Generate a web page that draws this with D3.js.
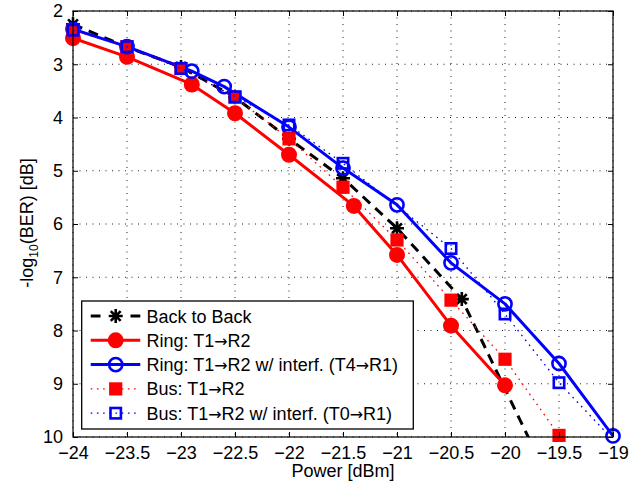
<!DOCTYPE html>
<html>
<head>
<meta charset="utf-8">
<script src="https://cdn.jsdelivr.net/npm/d3@7"></script>
<style>
  html, body { margin: 0; padding: 0; background: #fff; }
  svg { display: block; font-family: "Liberation Sans", Arial, Helvetica, sans-serif; }
</style>
</head>
<body>
<svg id="chart" width="634" height="483"></svg>
<script>
// ---------------- data ----------------
const xTicks = [-24, -23.5, -23, -22.5, -22, -21.5, -21, -20.5, -20, -19.5, -19];
const yTicks = [2, 3, 4, 5, 6, 7, 8, 9, 10];

const b2bX = [-24, -23.5, -23, -22.5, -22, -21.5, -21, -20.4, -19.5];
const b2bY = [2.25, 2.68, 3.05, 3.62, 4.40, 5.14, 6.08, 7.41, 11.2];

const ringX = [-24, -23.5, -22.9, -22.5, -22, -21.4, -21, -20.5, -20];
const ringY = [2.51, 2.86, 3.38, 3.92, 4.70, 5.66, 6.58, 7.91, 9.03];

const ringIntX = [-24, -23.5, -22.9, -22.6, -22, -21.5, -21, -20.5, -20, -19.5, -19];
const ringIntY = [2.34, 2.67, 3.13, 3.42, 4.18, 4.95, 5.64, 6.73, 7.50, 8.62, 9.98];

const busX = [-24, -23.5, -23, -22.5, -22, -21.5, -21, -20.5, -20, -19.5];
const busY = [2.36, 2.67, 3.08, 3.62, 4.40, 5.31, 6.30, 7.43, 8.54, 9.97];

const busIntX = [-24, -23.5, -23, -22.5, -22, -21.5, -20.5, -20, -19.5, -19];
const busIntY = [2.36, 2.67, 3.08, 3.61, 4.14, 4.86, 6.46, 7.69, 8.98, 10.05];

const seriesNames = [
  "Back to Back",
  "Ring: T1\u2192R2",
  "Ring: T1\u2192R2 w/ interf. (T4\u2192R1)",
  "Bus: T1\u2192R2",
  "Bus: T1\u2192R2 w/ interf. (T0\u2192R1)"
];

// ---------------- layout ----------------
const L = 73, R = 613, T = 11, B = 437;
const svg = d3.select("#chart");
const x = d3.scaleLinear().domain([-24, -19]).range([L, R]);
const y = d3.scaleLinear().domain([2, 10]).range([T, B]);

svg.append("defs").append("clipPath").attr("id", "plotclip")
  .append("rect").attr("x", L).attr("y", T).attr("width", R - L).attr("height", B - T);

// grid
const grid = svg.append("g");
grid.selectAll("line.gx").data(xTicks).join("line")
  .attr("x1", d => x(d)).attr("x2", d => x(d)).attr("y1", T).attr("y2", B)
  .attr("stroke", "#000").attr("stroke-width", 0.9).attr("stroke-dasharray", "1,5.5");
grid.selectAll("line.gy").data(yTicks).join("line")
  .attr("y1", d => y(d)).attr("y2", d => y(d)).attr("x1", L).attr("x2", R)
  .attr("stroke", "#000").attr("stroke-width", 0.9).attr("stroke-dasharray", "1,5.5");

// ---------------- marker shapes ----------------
function asterisk(g, s) {
  const a = 7;
  const d = [];
  for (let i = 0; i < 4; i++) {
    const ang = i * Math.PI / 4;
    d.push(`M${-a * Math.cos(ang)},${-a * Math.sin(ang)}L${a * Math.cos(ang)},${a * Math.sin(ang)}`);
  }
  g.append("path").attr("d", d.join("")).attr("stroke", s).attr("stroke-width", 2.6).attr("fill", "none");
}
function filledCircle(g, c) { g.append("circle").attr("r", 8).attr("fill", c); }
function openCircle(g, c) { g.append("circle").attr("r", 6.6).attr("fill", "none").attr("stroke", c).attr("stroke-width", 2.6); }
function filledSquare(g, c) { g.append("rect").attr("x", -6.6).attr("y", -6.6).attr("width", 13.2).attr("height", 13.2).attr("fill", c); }
function openSquare(g, c) { g.append("rect").attr("x", -5.2).attr("y", -5.2).attr("width", 10.4).attr("height", 10.4).attr("fill", "none").attr("stroke", c).attr("stroke-width", 2.6); }

const series = [
  { xs: b2bX, ys: b2bY, color: "#000", width: 3, dash: "10,7", marker: asterisk },
  { xs: ringX, ys: ringY, color: "#ff0000", width: 3, dash: null, marker: filledCircle },
  { xs: ringIntX, ys: ringIntY, color: "#0000ff", width: 3, dash: null, marker: openCircle },
  { xs: busX, ys: busY, color: "#ff0000", width: 1.3, dash: "1.6,4.6", marker: filledSquare },
  { xs: busIntX, ys: busIntY, color: "#0000ff", width: 1.3, dash: "1.6,4.6", marker: openSquare }
];

const line = d3.line().x(d => x(d[0])).y(d => y(d[1]));

series.forEach(s => {
  const pts = s.xs.map((v, i) => [v, s.ys[i]]);
  const g = svg.append("g");
  const p = g.append("path").datum(pts).attr("d", line)
    .attr("fill", "none").attr("stroke", s.color).attr("stroke-width", s.width)
    .attr("stroke-linejoin", "round").attr("clip-path", "url(#plotclip)");
  if (s.dash) p.attr("stroke-dasharray", s.dash);
  pts.filter(d => d[1] >= 2 && d[1] <= 10).forEach(d => {
    const mg = g.append("g").attr("transform", `translate(${x(d[0])},${y(d[1])})`);
    s.marker(mg, s.color);
  });
});

// ---------------- axes ----------------
const fmt = d => (d < 0 ? "\u2212" : "") + Math.abs(d);
const axB = d3.axisBottom(x).tickValues(xTicks).tickSize(-5).tickPadding(9).tickFormat(fmt);
const axT = d3.axisTop(x).tickValues(xTicks).tickSize(-5).tickFormat("");
const axLft = d3.axisLeft(y).tickValues(yTicks).tickSize(-5).tickPadding(10).tickFormat(d3.format("d"));
const axRt = d3.axisRight(y).tickValues(yTicks).tickSize(-5).tickFormat("");

function styleAxis(g) {
  g.select(".domain").remove();
  g.selectAll(".tick line").attr("stroke", "#000").attr("stroke-width", 1);
  g.selectAll("text").attr("font-size", 18).attr("fill", "#000").attr("font-family", "Liberation Sans, Arial, sans-serif");
}
svg.append("g").attr("transform", `translate(0,${B})`).call(axB).call(styleAxis);
svg.append("g").attr("transform", `translate(0,${T})`).call(axT).call(styleAxis);
svg.append("g").attr("transform", `translate(${L},0)`).call(axLft).call(styleAxis);
svg.append("g").attr("transform", `translate(${R},0)`).call(axRt).call(styleAxis);

svg.append("rect").attr("x", L).attr("y", T).attr("width", R - L).attr("height", B - T)
  .attr("fill", "none").attr("stroke", "#000").attr("stroke-width", 1.2);

// axis labels
svg.append("text").attr("x", (L + R) / 2).attr("y", 477).attr("text-anchor", "middle")
  .attr("font-size", 18).text("Power [dBm]");

const yl = svg.append("text").attr("transform", `translate(33,${(T + B) / 2 - 1}) rotate(-90)`)
  .attr("text-anchor", "middle").attr("font-size", 18);
yl.append("tspan").text("-log");
yl.append("tspan").attr("font-size", 12).attr("dy", 5).text("10");
yl.append("tspan").attr("dy", -5).text("(BER) [dB]");

// ---------------- legend ----------------
const lg = svg.append("g");
lg.append("rect").attr("x", 81.7).attr("y", 301).attr("width", 331.6).attr("height", 128)
  .attr("fill", "#fff").attr("stroke", "#000").attr("stroke-width", 1.3);
const rowY = [316, 340.3, 364.6, 388.9, 413.2];
series.forEach((s, i) => {
  const yy = rowY[i];
  if (i === 0) {
    [[90.7, 100.5], [130.5, 140.3]].forEach(seg => {
      lg.append("line").attr("x1", seg[0]).attr("x2", seg[1]).attr("y1", yy).attr("y2", yy)
        .attr("stroke", s.color).attr("stroke-width", s.width);
    });
  } else {
    const ln = lg.append("line").attr("x1", 90.7).attr("x2", 140.3).attr("y1", yy).attr("y2", yy)
      .attr("stroke", s.color).attr("stroke-width", s.width);
    if (s.dash) ln.attr("stroke-dasharray", s.dash);
  }
  const mg = lg.append("g").attr("transform", `translate(115.7,${yy})`);
  s.marker(mg, s.color);
  const t = lg.append("text").attr("x", 146.5).attr("y", yy + 6.5).attr("font-size", 18);
  seriesNames[i].split(/(\u2192)/).forEach(part => {
    if (!part) return;
    const ts = t.append("tspan").text(part);
    if (part === "\u2192") ts.attr("font-family", "DejaVu Sans").attr("font-size", 16);
  });
});
</script>
</body>
</html>
